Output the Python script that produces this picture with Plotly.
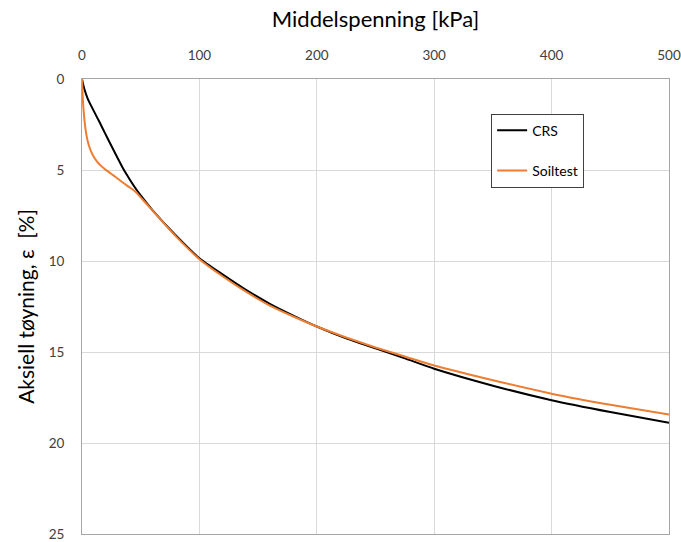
import plotly.graph_objects as go

# Mean stress p' [kPa] and axial strain [%] for the two test series
crs_p = [0, 1, 2, 5, 10, 15, 20, 25, 30, 35, 40, 45, 50, 60, 80, 100, 120, 140,
         160, 180, 200, 225, 250, 275, 300, 350, 400, 450, 500]
crs_eps = [0, 0.3, 0.55, 1.1, 1.75, 2.38, 3.03, 3.67, 4.3, 4.92, 5.45, 5.95, 6.4,
           7.2, 8.6, 9.85, 10.75, 11.6, 12.35, 13.0, 13.6, 14.25, 14.8, 15.35,
           15.92, 16.85, 17.65, 18.3, 18.89]

soil_p = [0, 0.5, 1, 2, 3, 4, 5, 6, 8, 10, 13, 16, 20, 25, 30, 35, 40, 46, 52,
          60, 80, 100, 120, 140, 160, 180, 200, 225, 250, 275, 300, 350, 400,
          450, 500]
soil_eps = [0, 0.8, 1.4, 2.2, 2.75, 3.15, 3.45, 3.68, 4.02, 4.27, 4.55, 4.76,
            4.98, 5.22, 5.45, 5.7, 5.93, 6.22, 6.65, 7.22, 8.65, 9.9, 10.85,
            11.7, 12.45, 13.05, 13.6, 14.2, 14.75, 15.25, 15.74, 16.55, 17.29,
            17.9, 18.44]

x_ticks = [0, 100, 200, 300, 400, 500]
y_ticks = [0, 5, 10, 15, 20, 25]

FONT = "Lato, 'Open Sans', sans-serif"

fig = go.Figure()
fig.add_trace(go.Scatter(x=crs_p, y=crs_eps, mode="lines", name="CRS",
                         line=dict(color="#000000", width=2, shape="spline",
                                   smoothing=0.6),
                         legendgroup="a"))
fig.add_trace(go.Scatter(x=soil_p, y=soil_eps, mode="lines", name="Soiltest",
                         line=dict(color="#ED7D31", width=2, shape="spline",
                                   smoothing=0.6),
                         legendgroup="b"))

fig.update_layout(
    width=681, height=542,
    margin=dict(l=82, r=12, t=79, b=8, autoexpand=False),
    paper_bgcolor="white", plot_bgcolor="white",
    font=dict(family=FONT, size=13, color="#404040"),
    showlegend=True,
    legend=dict(x=0.697, y=0.924, xanchor="left", yanchor="top",
                bordercolor="#404040", borderwidth=1, bgcolor="white",
                font=dict(size=14, color="#000000"), tracegroupgap=19,
                itemwidth=30, entrywidth=67, entrywidthmode="pixels"),
    xaxis=dict(side="top", range=[0, 500], tickvals=x_ticks,
               showgrid=True, gridcolor="#d9d9d9", gridwidth=1,
               showline=True, linecolor="#a6a6a6", linewidth=1, mirror=True,
               zeroline=False, ticks="", ticklabelstandoff=13,
               ticklabeloverflow="allow", automargin=False,
               tickfont=dict(size=13.5, color="#404040"),
               title=dict(text="Middelspenning [kPa]", standoff=12,
                          font=dict(size=22, color="#000000"))),
    yaxis=dict(range=[25, 0], tickvals=y_ticks,
               showgrid=True, gridcolor="#d9d9d9", gridwidth=1,
               showline=True, linecolor="#a6a6a6", linewidth=1, mirror=True,
               zeroline=False, ticks="", ticklabelstandoff=14,
               ticklabeloverflow="allow", automargin=False,
               tickfont=dict(size=13.5, color="#404040"),
               title=dict(text="Aksiell tøyning, ε  [%]", standoff=8,
                          font=dict(size=21, color="#000000"))),
)

fig.write_html("out.html")
